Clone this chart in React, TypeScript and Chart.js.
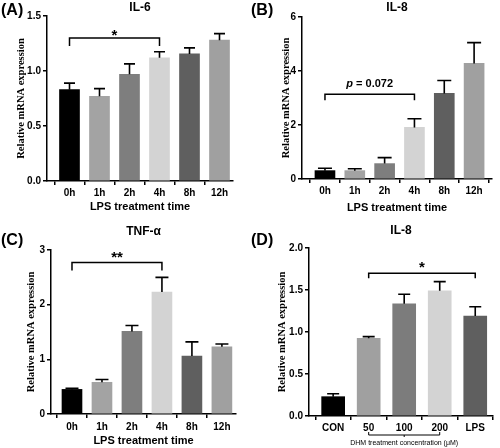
import React, { useEffect, useRef } from "react";
import { Chart, registerables } from "chart.js";

Chart.register(...registerables);

// ---------- data ----------
const timeLabels = ["0h", "1h", "2h", "4h", "8h", "12h"];
const dhmLabels = ["CON", "50", "100", "200", "LPS"];

const il6Means = [0.83, 0.77, 0.97, 1.12, 1.155, 1.28];
const il6Upper = [0.89, 0.84, 1.065, 1.175, 1.21, 1.34];

const il8TimeMeans = [0.31, 0.31, 0.57, 1.91, 3.17, 4.28];
const il8TimeUpper = [0.4, 0.38, 0.79, 2.23, 3.65, 5.05];

const tnfMeans = [0.45, 0.58, 1.51, 2.23, 1.06, 1.23];
const tnfUpper = [0.47, 0.63, 1.62, 2.5, 1.32, 1.28];

const il8DhmMeans = [0.23, 0.925, 1.335, 1.49, 1.19];
const il8DhmUpper = [0.265, 0.945, 1.45, 1.6, 1.3];

const timeColors = ["#000000", "#a3a3a3", "#7e7e7e", "#d3d3d3", "#5f5f5f", "#a0a0a0"];
const dhmColors = ["#000000", "#a0a0a0", "#7c7c7c", "#d3d3d3", "#5f5f5f"];

const sigA = { from: 0, to: 3, level: 1.3, label: "*" };
const sigB = { from: 0, to: 3, level: 3.14, label: "p = 0.072" };
const sigC = { from: 0, to: 3, level: 2.77, label: "**" };
const sigD = { from: 1, to: 4, level: 1.7, label: "*" };

const yTitle = "Relative mRNA expression";
const timeAxisTitle = "LPS treatment time";
const dhmAxisTitle = "DHM treatment concentration (μM)";

// ---------- layout ----------
const SANS = "'Liberation Sans', Arial, sans-serif";
const SERIF = "'Liberation Serif', 'Times New Roman', serif";
const W = 250;
const H = 224;

type Sig = { from: number; to: number; level: number; label: string };
type Panel = {
  pos: [number, number];
  letter: string;
  letterY: number;
  title: string;
  titleY: number;
  labels: string[];
  means: number[];
  uppers: number[];
  colors: string[];
  yMax: number;
  yStep: number;
  dec: number;
  area: { left: number; right: number; top: number; bottom: number };
  xMin: number;
  xMax: number;
  barPx: number;
  capPx: number;
  yTitleX: number;
  xTitle: string;
  xTitleY: number;
  xTickPad: number;
  sig: Sig;
  sigDrop: number;
  sigTextY: number;
  group?: { from: number; to: number; lineY: number; textY: number };
};

const panels: Panel[] = [
  {
    pos: [0, 0], letter: "(A)", letterY: 11, title: "IL-6", titleY: 8,
    labels: timeLabels, means: il6Means, uppers: il6Upper, colors: timeColors,
    yMax: 1.5, yStep: 0.5, dec: 1,
    area: { left: 47, right: 233, top: 16, bottom: 181 },
    xMin: -0.75, xMax: 5.45, barPx: 20, capPx: 11,
    yTitleX: 21, xTitle: timeAxisTitle, xTitleY: 207, xTickPad: 2,
    sig: sigA, sigDrop: 8, sigTextY: 40,
  },
  {
    pos: [250, 0], letter: "(B)", letterY: 11, title: "IL-8", titleY: 8,
    labels: timeLabels, means: il8TimeMeans, uppers: il8TimeUpper, colors: timeColors,
    yMax: 6, yStep: 2, dec: 0,
    area: { left: 52, right: 242, top: 17, bottom: 179 },
    xMin: -0.77, xMax: 5.6, barPx: 20, capPx: 14,
    yTitleX: 36, xTitle: timeAxisTitle, xTitleY: 208, xTickPad: 2,
    sig: sigB, sigDrop: 6, sigTextY: 87,
  },
  {
    pos: [0, 224], letter: "(C)", letterY: 17, title: "TNF-α", titleY: 8,
    labels: timeLabels, means: tnfMeans, uppers: tnfUpper, colors: timeColors,
    yMax: 3, yStep: 1, dec: 0,
    area: { left: 51, right: 236, top: 26, bottom: 190 },
    xMin: -0.7, xMax: 5.47, barPx: 20, capPx: 13,
    yTitleX: 31, xTitle: timeAxisTitle, xTitleY: 217, xTickPad: 3,
    sig: sigC, sigDrop: 8, sigTextY: 38,
  },
  {
    pos: [250, 224], letter: "(D)", letterY: 17, title: "IL-8", titleY: 7,
    labels: dhmLabels, means: il8DhmMeans, uppers: il8DhmUpper, colors: dhmColors,
    yMax: 2, yStep: 0.5, dec: 1,
    area: { left: 59, right: 243, top: 24, bottom: 192 },
    xMin: -0.68, xMax: 4.5, barPx: 23, capPx: 12,
    yTitleX: 32, xTitle: "", xTitleY: 0, xTickPad: 2,
    sig: sigD, sigDrop: 5, sigTextY: 48,
    group: { from: 1, to: 3, lineY: 211, textY: 219 },
  },
];

function makeOverlay(p: Panel) {
  return {
    id: "overlay",
    afterDraw(chart: any) {
      const ctx: CanvasRenderingContext2D = chart.ctx;
      const xs = chart.scales.x;
      const ys = chart.scales.y;
      const ca = chart.chartArea;
      const cx = (ca.left + ca.right) / 2;
      const cy = (ca.top + ca.bottom) / 2;
      ctx.save();
      ctx.strokeStyle = "#000";
      ctx.fillStyle = "#000";

      // error bars (upper only)
      ctx.lineWidth = 1.6;
      p.means.forEach((m, i) => {
        const x = xs.getPixelForValue(i);
        const y0 = ys.getPixelForValue(m);
        const y1 = ys.getPixelForValue(p.uppers[i]);
        ctx.beginPath();
        ctx.moveTo(x, y0);
        ctx.lineTo(x, y1);
        ctx.moveTo(x - p.capPx / 2, y1);
        ctx.lineTo(x + p.capPx / 2, y1);
        ctx.stroke();
      });

      // significance bracket
      const xa = xs.getPixelForValue(p.sig.from);
      const xb = xs.getPixelForValue(p.sig.to);
      const yb = ys.getPixelForValue(p.sig.level);
      ctx.lineWidth = 1.5;
      ctx.beginPath();
      ctx.moveTo(xa, yb + p.sigDrop);
      ctx.lineTo(xa, yb);
      ctx.lineTo(xb, yb);
      ctx.lineTo(xb, yb + p.sigDrop);
      ctx.stroke();

      const mid = (xa + xb) / 2;
      ctx.textBaseline = "alphabetic";
      if (p.sig.label.startsWith("p")) {
        const f1 = `italic bold 11px ${SANS}`;
        const f2 = `bold 11px ${SANS}`;
        const rest = p.sig.label.slice(1);
        ctx.font = f1;
        const w1 = ctx.measureText("p").width;
        ctx.font = f2;
        const w2 = ctx.measureText(rest).width;
        let x0 = mid - (w1 + w2) / 2;
        ctx.textAlign = "left";
        ctx.font = f1;
        ctx.fillText("p", x0, p.sigTextY);
        ctx.font = f2;
        ctx.fillText(rest, x0 + w1, p.sigTextY);
      } else {
        ctx.font = `bold 15px ${SANS}`;
        ctx.textAlign = "center";
        ctx.fillText(p.sig.label, mid, p.sigTextY);
      }

      // panel letter
      ctx.textAlign = "left";
      ctx.textBaseline = "middle";
      ctx.font = `bold 16px ${SANS}`;
      ctx.fillText(p.letter, 1, p.letterY);

      // title
      ctx.textAlign = "center";
      ctx.font = `bold 12px ${SANS}`;
      ctx.fillText(p.title, cx, p.titleY);

      // x axis title
      if (p.xTitle) {
        ctx.font = `bold 11px ${SANS}`;
        ctx.fillText(p.xTitle, cx, p.xTitleY);
      }

      // group bracket under x labels
      if (p.group) {
        const ga = xs.getPixelForValue(p.group.from);
        const gb = xs.getPixelForValue(p.group.to);
        const gm = (ga + gb) / 2;
        ctx.lineWidth = 1;
        ctx.beginPath();
        ctx.moveTo(ga, p.group.lineY - 3);
        ctx.lineTo(ga, p.group.lineY);
        ctx.lineTo(gb, p.group.lineY);
        ctx.lineTo(gb, p.group.lineY - 3);
        ctx.moveTo(gm, p.group.lineY);
        ctx.lineTo(gm, p.group.lineY + 2);
        ctx.stroke();
        ctx.font = `7px ${SANS}`;
        ctx.fillText(dhmAxisTitle, gm, p.group.textY);
      }

      // y axis title (rotated)
      ctx.save();
      ctx.translate(p.yTitleX, cy);
      ctx.rotate(-Math.PI / 2);
      ctx.font = `bold 10.5px ${SERIF}`;
      ctx.textAlign = "center";
      ctx.textBaseline = "middle";
      ctx.fillText(yTitle, 0, 0);
      ctx.restore();

      ctx.restore();
    },
  };
}

function PanelChart({ p }: { p: Panel }) {
  const ref = useRef<HTMLCanvasElement | null>(null);
  useEffect(() => {
    if (!ref.current) return;
    const tickFont = { family: SANS, weight: "bold" as const, size: 10 };
    const chart = new Chart(ref.current, {
      type: "bar",
      data: {
        datasets: [
          {
            data: p.means.map((v, i) => ({ x: i, y: v })) as any,
            backgroundColor: p.colors,
            borderWidth: 0,
            barThickness: p.barPx,
          },
        ],
      },
      options: {
        animation: false,
        responsive: false,
        maintainAspectRatio: false,
        devicePixelRatio: 1,
        layout: { padding: { left: 0, top: p.area.top, right: W - p.area.right, bottom: 0 } },
        plugins: {
          legend: { display: false },
          tooltip: { enabled: false },
          title: { display: false },
        },
        scales: {
          x: {
            type: "linear",
            min: p.xMin,
            max: p.xMax,
            offset: false,
            afterBuildTicks: (s: any) => {
              s.ticks = p.labels.map((_, i) => ({ value: i }));
            },
            afterFit: (s: any) => {
              s.height = H - p.area.bottom;
            },
            ticks: {
              autoSkip: false,
              maxRotation: 0,
              minRotation: 0,
              padding: p.xTickPad,
              color: "#000",
              font: tickFont,
              callback: (v: any) => p.labels[Math.round(Number(v))] ?? "",
            },
            grid: {
              display: true,
              drawOnChartArea: false,
              drawTicks: true,
              tickLength: 4,
              color: "#000",
              lineWidth: 1.5,
            },
            border: { display: true, color: "#000", width: 1.5 },
          },
          y: {
            type: "linear",
            min: 0,
            max: p.yMax,
            afterFit: (s: any) => {
              s.width = p.area.left;
            },
            ticks: {
              stepSize: p.yStep,
              padding: 2,
              color: "#000",
              font: tickFont,
              callback: (v: any) => Number(v).toFixed(p.dec),
            },
            grid: {
              display: true,
              drawOnChartArea: false,
              drawTicks: true,
              tickLength: 4,
              color: "#000",
              lineWidth: 1.5,
            },
            border: { display: true, color: "#000", width: 1.5 },
          },
        },
      } as any,
      plugins: [makeOverlay(p)],
    });
    return () => chart.destroy();
  }, [p]);
  return (
    <canvas
      ref={ref}
      width={W}
      height={H}
      style={{ position: "absolute", left: p.pos[0], top: p.pos[1], width: W, height: H, display: "block" }}
    />
  );
}

export default function App() {
  return (
    <div
      style={{
        position: "fixed",
        left: 0,
        top: 0,
        width: 500,
        height: 448,
        background: "#ffffff",
        overflow: "hidden",
      }}
    >
      {panels.map((p, i) => (
        <PanelChart key={i} p={p} />
      ))}
    </div>
  );
}
